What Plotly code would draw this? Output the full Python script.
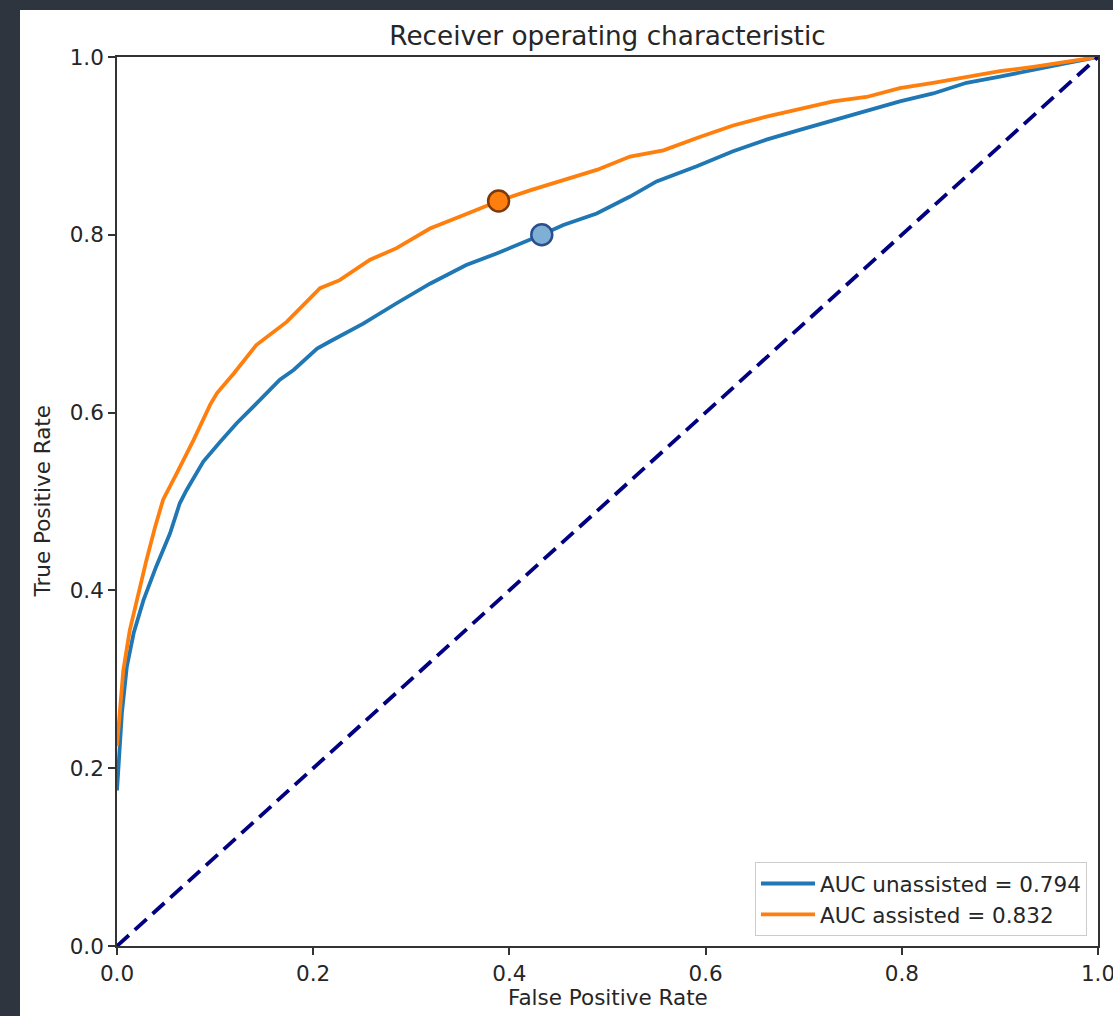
import plotly.graph_objects as go

# ---- data ----
fpr_unassisted = [0.0, 0.005, 0.010, 0.017, 0.027, 0.040, 0.054, 0.064, 0.071, 0.088, 0.105,
                  0.122, 0.142, 0.166, 0.180, 0.204, 0.217, 0.251, 0.285, 0.319, 0.356,
                  0.387, 0.433, 0.455, 0.489, 0.523, 0.550, 0.591, 0.628, 0.662, 0.696, 0.730,
                  0.764, 0.798, 0.832, 0.866, 0.900, 0.934, 0.968, 1.0]
tpr_unassisted = [0.175, 0.262, 0.314, 0.352, 0.389, 0.427, 0.464, 0.498, 0.513, 0.545, 0.567,
                  0.588, 0.610, 0.637, 0.648, 0.672, 0.680, 0.700, 0.723, 0.745, 0.766,
                  0.779, 0.800, 0.811, 0.824, 0.843, 0.860, 0.877, 0.894, 0.907, 0.918, 0.929,
                  0.940, 0.950, 0.959, 0.971, 0.978, 0.985, 0.993, 1.0]

fpr_assisted = [0.0, 0.001, 0.0064, 0.013, 0.020, 0.030, 0.039, 0.047, 0.061, 0.078, 0.095,
                0.102, 0.119, 0.142, 0.173, 0.207, 0.227, 0.258, 0.285, 0.319, 0.353, 0.389,
                0.421, 0.455, 0.489, 0.523, 0.557, 0.594, 0.628, 0.662, 0.696, 0.730, 0.764,
                0.798, 0.832, 0.866, 0.900, 0.934, 0.968, 1.0]
tpr_assisted = [0.225, 0.240, 0.310, 0.355, 0.389, 0.434, 0.472, 0.502, 0.532, 0.569, 0.609,
                0.622, 0.644, 0.676, 0.702, 0.740, 0.749, 0.772, 0.785, 0.807, 0.822, 0.838,
                0.850, 0.862, 0.873, 0.888, 0.895, 0.910, 0.923, 0.933, 0.942, 0.950, 0.955,
                0.965, 0.971, 0.978, 0.984, 0.989, 0.995, 1.0]

chance_x = [0.0, 1.0]
chance_y = [0.0, 1.0]

op_unassisted = (0.433, 0.800)
op_assisted = (0.389, 0.838)

auc_unassisted = 0.794
auc_assisted = 0.832

tick_vals = [0.0, 0.2, 0.4, 0.6, 0.8, 1.0]
tick_text = ["0.0", "0.2", "0.4", "0.6", "0.8", "1.0"]

title_text = "Receiver operating characteristic"
xlabel = "False Positive Rate"
ylabel = "True Positive Rate"

# ---- styles ----
FONT = "DejaVu Sans"
BLUE = "#1f77b4"
ORANGE = "#ff7f0e"
NAVY = "#000080"
TEXT = "#262626"
SPINE = "#333333"
FS = 21.5

fig = go.Figure()

fig.add_trace(go.Scatter(x=fpr_unassisted, y=tpr_unassisted, mode="lines",
                         line=dict(color=BLUE, width=3.8),
                         name=f"AUC unassisted = {auc_unassisted:.3f}"))
fig.add_trace(go.Scatter(x=fpr_assisted, y=tpr_assisted, mode="lines",
                         line=dict(color=ORANGE, width=3.8),
                         name=f"AUC assisted = {auc_assisted:.3f}"))
fig.add_trace(go.Scatter(x=chance_x, y=chance_y, mode="lines",
                         line=dict(color=NAVY, width=3.8, dash="16px,8px"),
                         showlegend=False))
fig.add_trace(go.Scatter(x=[op_assisted[0]], y=[op_assisted[1]], mode="markers",
                         marker=dict(size=21, color=ORANGE,
                                     line=dict(color="#7a3a0c", width=2.5)),
                         showlegend=False))
fig.add_trace(go.Scatter(x=[op_unassisted[0]], y=[op_unassisted[1]], mode="markers",
                         marker=dict(size=21, color="#7eb0d5",
                                     line=dict(color="#2b4f8e", width=2.5)),
                         showlegend=False))

W, H = 1113, 1016
L, R, T, B = 117, 15, 57, 70
pw, ph = W - L - R, H - T - B

def px_to_paper_x(p):
    return (p - L) / pw

def px_to_paper_y(p):
    return (H - B - p) / ph

axis_common = dict(
    range=[0, 1], tickvals=tick_vals, ticktext=tick_text,
    showgrid=False, zeroline=False,
    showline=True, linecolor=SPINE, linewidth=1.6, mirror=True,
    ticks="outside", ticklen=7, tickwidth=1.6, tickcolor=SPINE,
    tickfont=dict(family=FONT, size=FS, color=TEXT),
    ticklabeloverflow="allow",
    automargin=False,
    fixedrange=True,
)

fig.update_layout(
    width=W, height=H,
    margin=dict(l=L, r=R, t=T, b=B, pad=0, autoexpand=False),
    paper_bgcolor="#2e353f",
    plot_bgcolor="white",
    font=dict(family=FONT, color=TEXT),
    title=dict(text=title_text, x=0.5, xref="paper", xanchor="center",
               y=1 - 36 / H, yref="container", yanchor="middle",
               font=dict(family=FONT, size=26.3, color=TEXT)),
    xaxis=dict(**axis_common),
    yaxis=dict(**axis_common),
    showlegend=True,
    legend=dict(x=px_to_paper_x(1087), xanchor="right",
                y=px_to_paper_y(936), yanchor="bottom",
                bgcolor="rgba(255,255,255,0.85)", bordercolor="#cccccc", borderwidth=1,
                font=dict(family=FONT, size=FS, color=TEXT),
                tracegroupgap=0, itemwidth=54),
    shapes=[dict(type="rect", xref="paper", yref="paper", layer="below",
                 x0=px_to_paper_x(20), x1=px_to_paper_x(W + 20),
                 y0=px_to_paper_y(H + 20), y1=px_to_paper_y(10),
                 fillcolor="white", line=dict(width=0))],
    annotations=[
        dict(text=xlabel, xref="paper", yref="paper", x=0.5, y=0,
             xanchor="center", yanchor="middle", yshift=-51, showarrow=False,
             font=dict(family=FONT, size=FS, color=TEXT)),
        dict(text=ylabel, xref="paper", yref="paper", x=0, y=0.5,
             xanchor="center", yanchor="middle", xshift=-75, textangle=-90,
             showarrow=False, font=dict(family=FONT, size=FS, color=TEXT)),
    ],
)

fig.write_html("out.html",
               config={"displayModeBar": False},
               post_script="document.body.style.margin='0';document.body.style.overflow='hidden';")
